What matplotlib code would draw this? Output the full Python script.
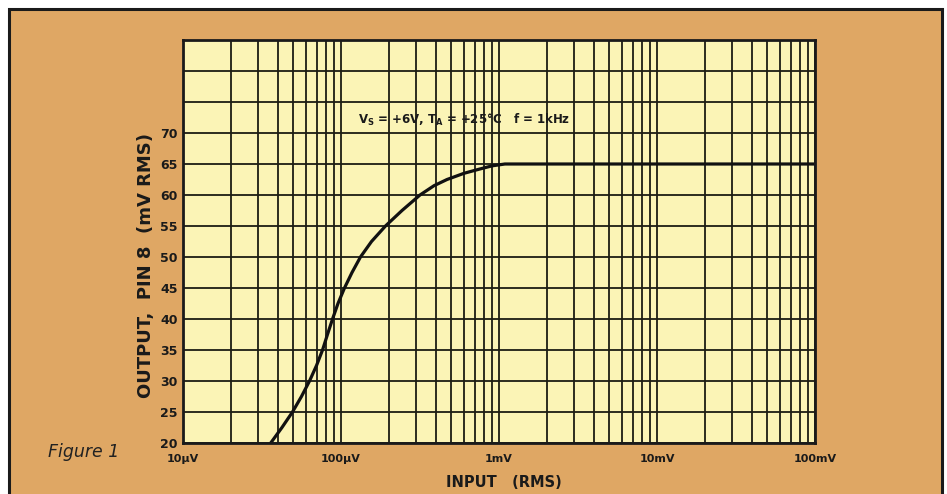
import matplotlib.pyplot as plt
from matplotlib.patches import Rectangle
from matplotlib.ticker import LogLocator, NullFormatter

# values
input_v = [35.9e-6, 42.3e-6, 49.3e-6, 56.2e-6, 63.2e-6, 70.0e-6, 76.4e-6, 82.1e-6,
           88.4e-6, 95.7e-6, 105.2e-6, 117.4e-6, 132.8e-6, 156.0e-6, 191.2e-6,
           243.3e-6, 316.2e-6, 387.8e-6, 468.8e-6, 600.4e-6, 758e-6, 903e-6, 1.09e-3,
           2e-3, 10e-3, 100e-3]
output_mv = [20, 22.5, 25, 27.5, 30, 32.5, 35, 37.5,
             40, 42.5, 45, 47.5, 50, 52.5, 55,
             57.5, 60, 61.5, 62.5, 63.5, 64.2, 64.7, 65,
             65, 65, 65]
xtick_vals = [1e-5, 1e-4, 1e-3, 1e-2, 1e-1]
xtick_labels = ["10µV", "100µV", "1mV", "10mV", "100mV"]
ytick_vals = [20, 25, 30, 35, 40, 45, 50, 55, 60, 65, 70]

W, H = 947, 494
fig = plt.figure(figsize=(W / 100, H / 100), dpi=100)
fig.patch.set_facecolor("white")
bg = "#dfa764"
frame = Rectangle((9 / W, -0.02), (942 - 9) / W, 1.02 - 9 / H,
                  transform=fig.transFigure, facecolor=bg,
                  edgecolor="#1a1a1a", linewidth=2.2, zorder=-5)
fig.patches.append(frame)

ax = fig.add_axes([183 / W, 1 - 443 / H, (815 - 183) / W, (443 - 40) / H])
ax.set_facecolor("#fbf4b6")
ax.set_xscale("log")
ax.set_xlim(1e-5, 1e-1)
ax.set_ylim(20, 85)

ax.xaxis.set_minor_locator(LogLocator(base=10, subs=range(2, 10)))
ax.xaxis.set_minor_formatter(NullFormatter())
ax.set_xticks(xtick_vals, xtick_labels)
ax.set_yticks(list(range(20, 90, 5)),
              [str(v) if v in ytick_vals else "" for v in range(20, 90, 5)])

ax.grid(True, which="both", color="#1c1c14", linewidth=1.3)
ax.tick_params(which="both", length=0, colors="#1a1a1a")
ax.tick_params(axis="x", pad=8, labelsize=8)
ax.tick_params(axis="y", pad=4, labelsize=9)
for lbl in ax.get_xticklabels() + ax.get_yticklabels():
    lbl.set_fontweight("bold")
for s in ax.spines.values():
    s.set_linewidth(2)
    s.set_color("#1a1a1a")

ax.plot(input_v, output_mv, color="#111111", linewidth=2.3,
        solid_joinstyle="round", solid_capstyle="round")

ax.text(1.28e-4, 72.1, r"V$_\mathregular{S}$ = +6V, T$_\mathregular{A}$ = +25°C   f = 1kHz",
        fontsize=8.5, fontweight="bold", va="center", ha="left", color="#1a1a1a")

fig.text(146 / W, 1 - 266 / H, "OUTPUT,  PIN 8  (mV RMS)", rotation=90,
         ha="center", va="center", fontsize=13, fontweight="bold", color="#1a1a1a")
fig.text(504 / W, 1 - 482 / H, "INPUT   (RMS)", ha="center", va="center",
         fontsize=10.5, fontweight="bold", color="#1a1a1a")
fig.text(48 / W, 1 - 452 / H, "Figure 1", ha="left", va="center",
         fontsize=12.5, style="italic", color="#222222")

fig.savefig("out.png", dpi=100)
